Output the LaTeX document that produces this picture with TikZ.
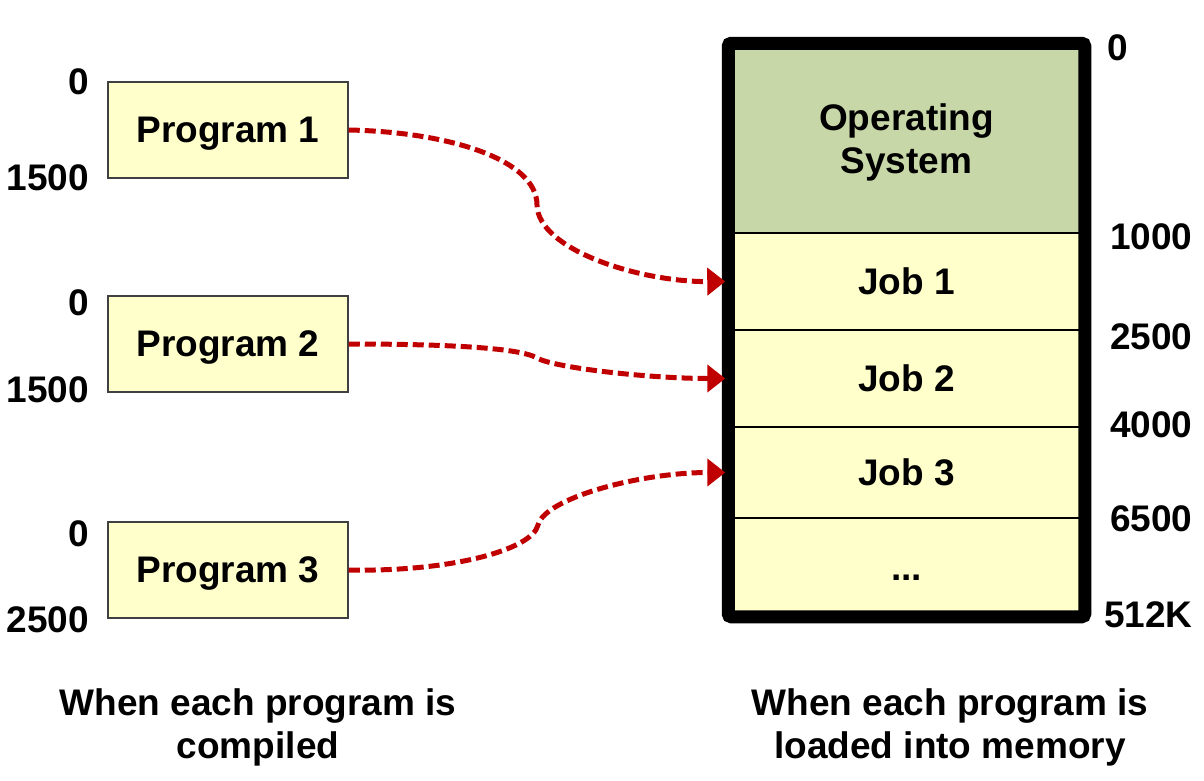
\documentclass[tikz,border=0pt]{standalone}
\usepackage{fontspec}
\setmainfont{Liberation Sans}
\usetikzlibrary{arrows.meta}
\definecolor{progyellow}{HTML}{FFFFCC}
\definecolor{osgreen}{HTML}{C8D7A8}
\definecolor{linkred}{HTML}{C00000}
\tikzset{
	big/.style={font=\fontsize{37}{43}\selectfont\bfseries},
	progbox/.style={big, draw=black!75, line width=1.5pt, fill=progyellow, minimum width=240pt, minimum height=96pt, inner sep=0, text depth=0pt},
	cell/.style={big, draw=black, line width=1.5pt, fill=progyellow, minimum width=355pt, inner sep=0, align=center},
	addr/.style={big, inner sep=0},
	link/.style={draw=linkred, line width=5pt, dash pattern=on 11pt off 5pt, -{Triangle[length=18pt,width=27pt]}, shorten >=3pt}
}

\begin{document}
\begin{tikzpicture}[x=1pt, y=-1pt]
			%%%%% START %%%%%
			
			\useasboundingbox (0, 0) rectangle (1204, 780);
			
			\node[progbox] (prog1) at (228, 130) {Program 1};
			\node[addr, anchor=east] (p1top) at (89, 82) {0};
			\node[addr, anchor=east] (p1end) at (89, 178) {1500};
			
			\node[progbox] (prog2) at (228, 344) {Program 2};
			\node[addr, anchor=east] (p2top) at (89, 303) {0};
			\node[addr, anchor=east] (p2end) at (89, 390) {1500};
			
			\node[progbox] (prog3) at (228, 570) {Program 3};
			\node[addr, anchor=east] (p3top) at (89, 534) {0};
			\node[addr, anchor=east] (p3end) at (89, 620) {2500};
			
			\node[cell, fill=osgreen, minimum height=189pt, text depth=0pt] (os) at (906.5, 138.5) {Operating\\System};
			\node[cell, minimum height=97pt] (job1) at (906.5, 281.5) {Job 1};
			\node[cell, minimum height=97pt] (job2) at (906.5, 378.5) {Job 2};
			\node[cell, minimum height=91pt] (job3) at (906.5, 472.5) {Job 3};
			\node[cell, minimum height=98pt] (rest) at (906.5, 567) {\vphantom{Job}...};
			\draw[line width=13pt, rounded corners=3pt] (os.north west) rectangle (rest.south east);
			
			\node[addr, anchor=west] (m0) at (1107, 48) {0};
			\node[addr, anchor=west] (m1) at (1110, 237) {1000};
			\node[addr, anchor=west] (m2) at (1110, 337) {2500};
			\node[addr, anchor=west] (m3) at (1110, 425) {4000};
			\node[addr, anchor=west] (m4) at (1110, 519) {6500};
			\node[addr, anchor=west] (m5) at (1104, 615) {512K};
			
			\draw[link] (prog1.east) .. controls (450, 132) and (537, 160) .. (537, 205) .. controls (538, 250) and (640, 282) .. (job1.west);
			\draw[link] (prog2.east) .. controls (450, 344) and (520, 348) .. (537, 358) .. controls (555, 368) and (650, 378.5) .. (job2.west);
			\draw[link] (prog3.east) .. controls (450, 572) and (532, 550) .. (538, 525) .. controls (545, 498) and (640, 472.5) .. (job3.west);
			
			\node[big, align=center, inner sep=0] (cap1) at (258, 727) {When each program is\\compiled};
			\node[big, align=center, inner sep=0] (cap2) at (950, 727) {When each program is\\loaded into memory};
			
			%%%%% END %%%%%
\end{tikzpicture}
\end{document}
